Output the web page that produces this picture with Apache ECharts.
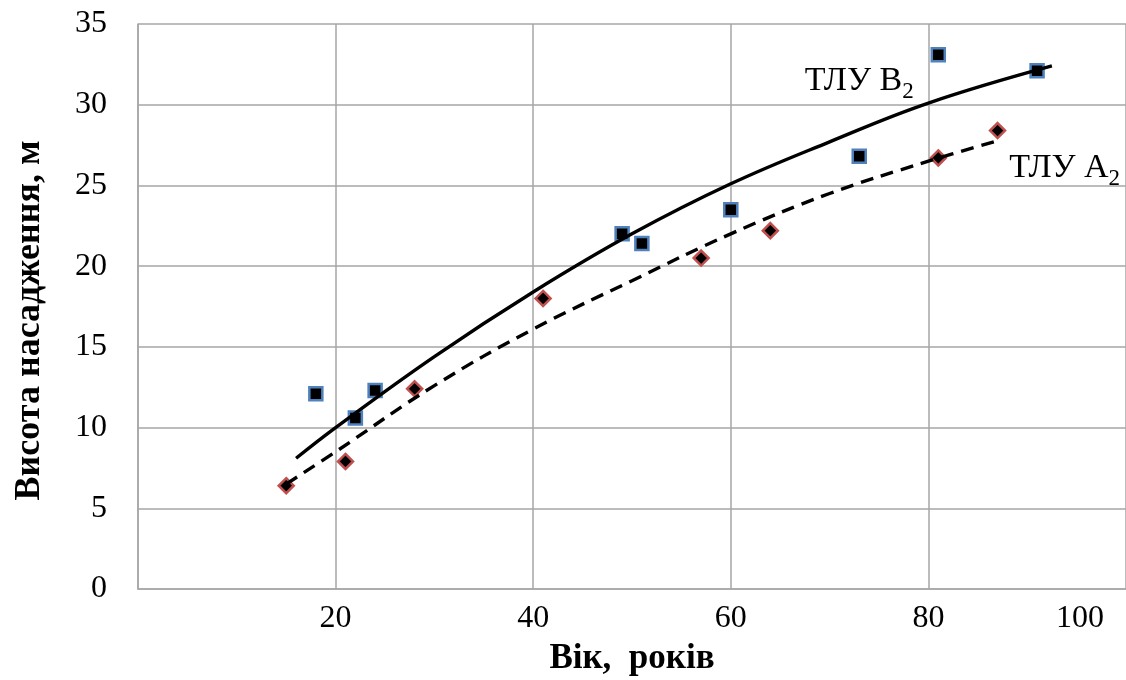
<!DOCTYPE html>
<html>
<head>
<meta charset="utf-8">
<script src="https://cdn.jsdelivr.net/npm/echarts@6/dist/echarts.min.js"></script>
<style>
html,body{margin:0;padding:0;background:#fff;}
#chart{width:1126px;height:680px;}
</style>
</head>
<body>
<div id="chart"></div>
<script>
// Observed points, ТЛУ В2 (squares)
const ageB = [18, 22, 24, 49, 51, 60, 73, 81, 91];
const heightB = [12.1, 10.6, 12.3, 22.0, 21.4, 23.5, 26.8, 33.1, 32.1];
// Observed points, ТЛУ А2 (diamonds)
const ageA = [15, 21, 28, 41, 57, 64, 81, 87];
const heightA = [6.4, 7.9, 12.4, 18.0, 20.5, 22.2, 26.7, 28.4];
// Trend lines
const trendBAge = [16, 20, 30, 40, 50, 60, 70, 80, 92.5];
const trendBHeight = [8.1, 10.0, 14.4, 18.4, 22.0, 25.1, 27.7, 30.1, 32.4];
const trendAAge = [15, 20, 30, 40, 50, 60, 70, 80, 87.2];
const trendAHeight = [6.5, 8.5, 12.6, 16.1, 19.1, 22.0, 24.5, 26.5, 27.8];
// Axis ticks
const xTicks = [20, 40, 60, 80, 100];
const yTicks = [0, 5, 10, 15, 20, 25, 30, 35];
// Curve labels
const labelB = {main: 'ТЛУ В', sub: '2', age: 73, height: 31.3};
const labelA = {main: 'ТЛУ А', sub: '2', age: 93.8, height: 25.9};

const zip = (xs, ys) => xs.map((x, i) => [x, ys[i]]);
const FONT = "'Liberation Serif', 'Times New Roman', serif";

const richLabel = {
  a: {fontSize: 34, fontFamily: FONT, color: '#000', lineHeight: 40, verticalAlign: 'top'},
  b: {fontSize: 23, fontFamily: FONT, color: '#000', lineHeight: 20, verticalAlign: 'bottom'}
};

const chart = echarts.init(document.getElementById('chart'), null, {renderer: 'canvas'});
chart.setOption({
  animation: false,
  backgroundColor: '#fff',
  grid: {left: 138, top: 24, right: 0, bottom: 91, containLabel: false, outerBoundsMode: 'none'},
  xAxis: {
    type: 'value', min: 0, max: 100, interval: 20,
    name: 'Вік,  років', nameLocation: 'middle', nameGap: 52,
    nameTextStyle: {fontFamily: FONT, fontWeight: 'bold', fontSize: 35, color: '#000'},
    axisLine: {show: true, lineStyle: {color: '#a6a6a6', width: 1.5}},
    axisTick: {show: false},
    splitLine: {show: true, lineStyle: {color: '#a6a6a6', width: 1.5}},
    axisLabel: {
      showMinLabel: false, margin: 14, fontFamily: FONT, fontSize: 32, color: '#000',
      formatter: v => (v === xTicks[xTicks.length - 1] ? '{last|' + v + '}' : String(v)),
      rich: {last: {fontFamily: FONT, fontSize: 32, color: '#000', padding: [0, 92, 0, 0]}}
    }
  },
  yAxis: {
    type: 'value', min: yTicks[0], max: yTicks[yTicks.length - 1], interval: 5,
    name: 'Висота насадження, м', nameLocation: 'middle', nameGap: 90,
    nameTextStyle: {fontFamily: FONT, fontWeight: 'bold', fontSize: 36, color: '#000', padding: [0, 28, 0, 0]},
    axisLine: {show: true, lineStyle: {color: '#a6a6a6', width: 1.5}},
    axisTick: {show: false},
    splitLine: {show: true, lineStyle: {color: '#a6a6a6', width: 1.5}},
    axisLabel: {margin: 31, fontFamily: FONT, fontSize: 32, color: '#000'}
  },
  series: [
    {
      name: 'ТЛУ В2 точки', type: 'scatter', data: zip(ageB, heightB),
      symbol: 'rect', symbolSize: 13, z: 2,
      itemStyle: {color: '#000', borderColor: '#4f81bd', borderWidth: 2.5, opacity: 1}
    },
    {
      name: 'ТЛУ А2 точки', type: 'scatter', data: zip(ageA, heightA),
      symbol: 'diamond', symbolSize: 15, z: 2,
      itemStyle: {color: '#000', borderColor: '#c0504d', borderWidth: 2.5, opacity: 1}
    },
    {
      name: 'ТЛУ В2', type: 'line', data: zip(trendBAge, trendBHeight),
      smooth: 0.4, showSymbol: false, symbol: 'none', z: 3,
      lineStyle: {color: '#000', width: 3.4, type: 'solid'},
      markPoint: {
        symbol: 'circle', symbolSize: 0,
        data: [{coord: [labelB.age, labelB.height]}],
        label: {show: true, position: 'inside', formatter: '{a|' + labelB.main + '}{b|' + labelB.sub + '}', rich: richLabel}
      }
    },
    {
      name: 'ТЛУ А2', type: 'line', data: zip(trendAAge, trendAHeight),
      smooth: 0.4, showSymbol: false, symbol: 'none', z: 3,
      lineStyle: {color: '#000', width: 3.4, type: [13, 8]},
      markPoint: {
        symbol: 'circle', symbolSize: 0,
        data: [{coord: [labelA.age, labelA.height]}],
        label: {show: true, position: 'inside', formatter: '{a|' + labelA.main + '}{b|' + labelA.sub + '}', rich: richLabel}
      }
    }
  ]
});
</script>
</body>
</html>
